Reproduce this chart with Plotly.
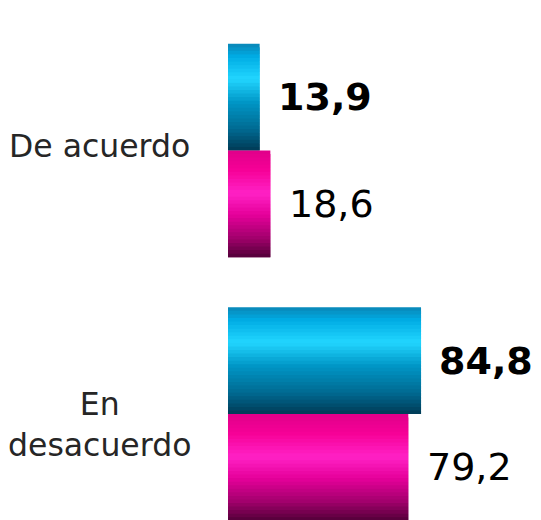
import plotly.graph_objects as go

categories = ["De acuerdo", "En desacuerdo"]
category_labels = ["De acuerdo", "En<br>desacuerdo"]
series_names = ["Serie A", "Serie B"]
values_a = [13.9, 84.8]
values_b = [18.6, 79.2]

def hex2rgb(h):
    h = h.lstrip('#')
    return tuple(int(h[i:i+2], 16) for i in (0, 2, 4))

def interp(stops, t):
    for (t0, c0), (t1, c1) in zip(stops[:-1], stops[1:]):
        if t0 <= t <= t1:
            f = (t - t0) / (t1 - t0) if t1 > t0 else 0
            a, b = hex2rgb(c0), hex2rgb(c1)
            return "rgb(%d,%d,%d)" % tuple(round(a[k] + (b[k] - a[k]) * f) for k in range(3))
    return stops[-1][1]

cyan_stops = [(0.0, "#0a86b5"), (0.12, "#00ace4"), (0.33, "#22d6ff"), (0.55, "#0096c6"),
              (0.8, "#006a92"), (1.0, "#003a55")]
mag_stops = [(0.0, "#e0008a"), (0.18, "#f60096"), (0.4, "#ff22c6"), (0.6, "#e6009a"),
             (0.82, "#a2006c"), (1.0, "#520038")]

fig = go.Figure()
N = 30
W = 0.405
s = W / N
for vals, stops, base in [(values_a, cyan_stops, -W), (values_b, mag_stops, 0.0)]:
    for i in range(N):
        t = (i + 0.5) / N
        w = min(2.0 * s, W - i * s)
        fig.add_trace(go.Bar(
            x=vals, y=categories, orientation="h",
            width=w, offset=base + i * s,
            marker=dict(color=interp(stops, t), line=dict(width=0)),
            hoverinfo="skip", showlegend=False,
        ))

fmt = lambda v: f"{v:.1f}".replace(".", ",")
label_shift = [4, -10]
for idx, (a, b) in enumerate(zip(values_a, values_b)):
    fig.add_annotation(x=a, y=idx - W / 2, xref="x", yref="y", text="<b>" + fmt(a) + "</b>",
                       showarrow=False, xanchor="left", xshift=16,
                       font=dict(family="DejaVu Sans", size=38, color="black"))
    fig.add_annotation(x=b, y=idx + W / 2, xref="x", yref="y", text=fmt(b),
                       showarrow=False, xanchor="left", xshift=17,
                       font=dict(family="DejaVu Sans", size=38, color="black"))
    fig.add_annotation(x=-0.41, y=idx, xref="paper", yref="y", text=category_labels[idx],
                       showarrow=False, xanchor="center", align="center",
                       yshift=label_shift[idx],
                       font=dict(family="DejaVu Sans", size=31.5, color="#262626"))

fig.update_layout(
    width=541, height=520,
    margin=dict(l=228, r=0, t=0, b=0),
    barmode="overlay",
    plot_bgcolor="white", paper_bgcolor="white",
    xaxis=dict(range=[0, 137.5], visible=False, fixedrange=True),
    yaxis=dict(type="category", categoryorder="array", categoryarray=categories,
               range=[1.402, -0.571], showticklabels=False, showgrid=False,
               zeroline=False, showline=False, fixedrange=True),
)
fig.write_html("out.html", config={"displayModeBar": False},
               post_script="document.body.style.margin='0';document.body.style.overflow='hidden';")
